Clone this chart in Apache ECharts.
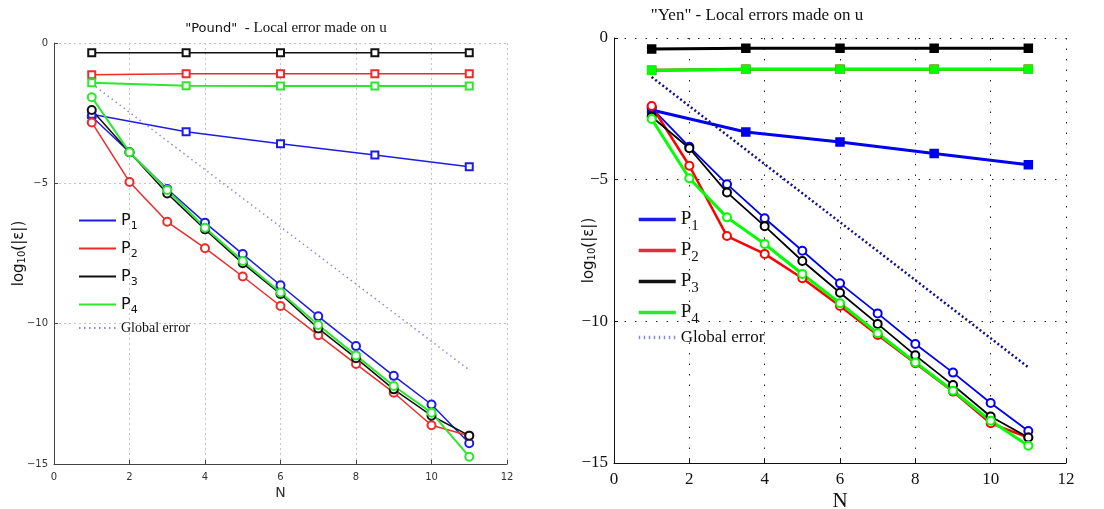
<!DOCTYPE html>
<html>
<head>
<meta charset="utf-8">
<script src="https://cdn.jsdelivr.net/npm/echarts@6/dist/echarts.min.js"></script>
<style>
  html, body { margin: 0; padding: 0; background: #fff; }
  #chart { width: 1104px; height: 509px; }
</style>
</head>
<body>
<div id="chart"></div>
<script>
// N values for the circle curves and the square curves
const nCircle = [1, 2, 3, 4, 5, 6, 7, 8, 9, 10, 11];
const nSquare = [1, 3.5, 6, 8.5, 11];
const nGlobal = [1, 11];

// "Pound" panel
const poundP1Circle = [-2.62, -3.89, -5.2, -6.4, -7.52, -8.63, -9.74, -10.8, -11.86, -12.88, -14.26];
const poundP2Circle = [-2.83, -4.95, -6.37, -7.31, -8.32, -9.37, -10.41, -11.44, -12.46, -13.62, -13.99];
const poundP3Circle = [-2.39, -3.89, -5.36, -6.64, -7.85, -8.94, -10.17, -11.23, -12.34, -13.28, -13.99];
const poundP4Circle = [-1.93, -3.89, -5.24, -6.58, -7.77, -8.89, -10.05, -11.13, -12.22, -13.17, -14.74];
const poundP1Square = [-2.54, -3.16, -3.59, -3.99, -4.41];
const poundP2Square = [-1.13, -1.1, -1.1, -1.1, -1.1];
const poundP3Square = [-0.35, -0.35, -0.35, -0.35, -0.35];
const poundP4Square = [-1.42, -1.52, -1.53, -1.53, -1.53];
const poundGlobal = [-1.45, -11.65];

// "Yen" panel
const yenP1Circle = [-2.47, -3.84, -5.16, -6.36, -7.51, -8.66, -9.72, -10.8, -11.81, -12.88, -13.87];
const yenP2Circle = [-2.4, -4.51, -6.99, -7.62, -8.48, -9.46, -10.48, -11.48, -12.48, -13.6, -14.1];
const yenP3Circle = [-2.78, -3.89, -5.45, -6.64, -7.87, -8.99, -10.09, -11.2, -12.25, -13.36, -14.1];
const yenP4Circle = [-2.86, -4.95, -6.33, -7.27, -8.33, -9.36, -10.42, -11.45, -12.45, -13.51, -14.39];
const yenP1Square = [-2.54, -3.32, -3.67, -4.08, -4.47];
const yenP2Square = [-1.14, -1.1, -1.1, -1.1, -1.1];
const yenP3Square = [-0.39, -0.36, -0.36, -0.36, -0.36];
const yenP4Square = [-1.14, -1.1, -1.1, -1.1, -1.1];
const yenGlobal = [-1.38, -11.62];

const xTicks = [0, 2, 4, 6, 8, 10, 12];
const yTicks = [0, -5, -10, -15];
const seriesNames = ['P1', 'P2', 'P3', 'P4', 'Global error'];

const pair = (xs, ys) => xs.map((x, i) => [x, ys[i]]);

function line(name, xs, ys, grid, opts) {
  return {
    name: name,
    type: 'line',
    xAxisIndex: grid,
    yAxisIndex: grid,
    data: pair(xs, ys),
    symbol: opts.symbol || 'none',
    symbolSize: opts.size || 7,
    showAllSymbol: true,
    animation: false,
    lineStyle: { color: opts.color, width: opts.width, type: opts.dash || 'solid' },
    itemStyle: { color: opts.color, borderColor: opts.color, borderWidth: opts.border || 1.5 },
    z: opts.z || 2,
  };
}

const L = { blue: '#1c1ce8', red: '#ee2a2a', black: '#111', green: '#2ee62e' };
const R = { blue: '#0000f0', red: '#ff0000', black: '#000', green: '#00ff00' };

const series = [
  // Pound
  line('P1', nCircle, poundP1Circle, 0, { color: L.blue, width: 1.5, symbol: 'emptyCircle', size: 8 }),
  line('P1', nSquare, poundP1Square, 0, { color: L.blue, width: 1.5, symbol: 'emptyRect', size: 7 }),
  line('P2', nCircle, poundP2Circle, 0, { color: L.red, width: 1.5, symbol: 'emptyCircle', size: 8 }),
  line('P2', nSquare, poundP2Square, 0, { color: L.red, width: 1.5, symbol: 'emptyRect', size: 7 }),
  line('P3', nCircle, poundP3Circle, 0, { color: L.black, width: 1.5, symbol: 'emptyCircle', size: 8 }),
  line('P3', nSquare, poundP3Square, 0, { color: L.black, width: 1.5, symbol: 'emptyRect', size: 7 }),
  line('P4', nCircle, poundP4Circle, 0, { color: L.green, width: 2, symbol: 'emptyCircle', size: 8 }),
  line('P4', nSquare, poundP4Square, 0, { color: L.green, width: 2, symbol: 'emptyRect', size: 7 }),
  line('Global error', nGlobal, poundGlobal, 0, { color: '#8a8ad8', width: 1.5, dash: [1.5, 3.5] }),
  // Yen
  line('P1', nCircle, yenP1Circle, 1, { color: R.blue, width: 1.8, symbol: 'emptyCircle', size: 8, border: 2 }),
  line('P1', nSquare, yenP1Square, 1, { color: R.blue, width: 3, symbol: 'rect', size: 8 }),
  line('P2', nCircle, yenP2Circle, 1, { color: R.red, width: 2.5, symbol: 'emptyCircle', size: 8, border: 2 }),
  line('P2', nSquare, yenP2Square, 1, { color: R.red, width: 3, symbol: 'rect', size: 8 }),
  line('P3', nCircle, yenP3Circle, 1, { color: R.black, width: 1.8, symbol: 'emptyCircle', size: 8, border: 2 }),
  line('P3', nSquare, yenP3Square, 1, { color: R.black, width: 3, symbol: 'rect', size: 8 }),
  line('P4', nCircle, yenP4Circle, 1, { color: R.green, width: 3, symbol: 'emptyCircle', size: 8, border: 2 }),
  line('P4', nSquare, yenP4Square, 1, { color: R.green, width: 3, symbol: 'rect', size: 8 }),
  line('Global error', nGlobal, yenGlobal, 1, { color: '#10108a', width: 2.5, dash: [2, 2.5] }),
];

function xAxis(grid, font, size, color, axisColor, splitColor, splitDash, gap) {
  return {
    type: 'value', gridIndex: grid, min: xTicks[0], max: xTicks[xTicks.length - 1], interval: 2,
    name: 'N', nameLocation: 'middle', nameGap: gap, nameMoveOverlap: false,
    nameTextStyle: { fontFamily: font, fontSize: size + 4, color: color },
    axisLine: { onZero: false, lineStyle: { color: axisColor, width: 1 } },
    axisTick: { inside: true, length: 4, lineStyle: { color: axisColor } },
    axisLabel: { fontFamily: font, fontSize: size, color: color, margin: 8 },
    splitLine: { show: true, lineStyle: { color: splitColor, type: splitDash, width: 1 } },
  };
}

function yAxis(grid, font, size, color, axisColor, splitColor, splitDash, gap) {
  return {
    type: 'value', gridIndex: grid, min: yTicks[yTicks.length - 1], max: yTicks[0], interval: 5,
    name: 'log{s|10}(|ε|)', nameLocation: 'middle', nameGap: gap, nameRotate: 90,
    nameMoveOverlap: false,
    nameTextStyle: {
      fontFamily: 'DejaVu Sans', fontSize: 15, color: '#111',
      rich: {
        s: { fontFamily: 'DejaVu Sans', fontSize: 10, color: '#111', padding: [6, 0, 0, 0] },
      },
    },
    axisLine: { show: true, onZero: false, lineStyle: { color: axisColor, width: 1 } },
    axisTick: { show: true, inside: true, length: 4, lineStyle: { color: axisColor } },
    axisLabel: {
      fontFamily: font, fontSize: size, color: color, margin: 6,
      formatter: (v) => (v < 0 ? '\u2212' + Math.abs(v) : String(v)),
    },
    splitLine: { show: true, lineStyle: { color: splitColor, type: splitDash, width: 1 } },
  };
}

function legendFmt(name) {
  if (name === 'Global error') return '{g|Global error}';
  return '{p|P}{s|' + name.slice(1) + '}';
}

const chart = echarts.init(document.getElementById('chart'));
chart.setOption({
  backgroundColor: '#fff',
  animation: false,
  title: [
    {
      text: '{a|"Pound"}{b|  - Local error made on u}',
      left: 281, top: 16, textAlign: 'center',
      textStyle: {
        fontWeight: 'normal',
        rich: {
          a: { fontFamily: 'DejaVu Sans', fontSize: 13, fontWeight: 'normal', color: '#111' },
          b: { fontFamily: 'Liberation Serif', fontSize: 15, fontWeight: 'normal', color: '#111' },
        },
      },
    },
    {
      text: '"Yen" - Local errors made on u',
      left: 752, top: 2, textAlign: 'center',
      textStyle: { fontFamily: 'Liberation Serif', fontSize: 17, fontWeight: 'normal', color: '#111' },
    },
  ],
  grid: [
    { left: 54, top: 43, width: 453, height: 421, containLabel: false, outerBoundsMode: 'none' },
    { left: 614, top: 38, width: 452, height: 425, containLabel: false, outerBoundsMode: 'none' },
  ],
  xAxis: [
    xAxis(0, 'DejaVu Sans', 10, '#333', '#444', '#c4c4c4', [2, 3], 22),
    xAxis(1, 'Liberation Serif', 17, '#111', '#111', '#222', [1.5, 9], 28),
  ],
  yAxis: [
    yAxis(0, 'DejaVu Sans', 10, '#333', '#444', '#c4c4c4', [2, 3], 27),
    yAxis(1, 'Liberation Serif', 17, '#111', '#111', '#222', [1.5, 9], 17),
  ],
  legend: [
    {
      data: seriesNames, orient: 'vertical', left: 73, top: 204,
      itemWidth: 37, itemHeight: 10, itemGap: 5,
      itemStyle: { opacity: 0 },
      formatter: legendFmt,
      textStyle: {
        rich: {
          p: { fontFamily: 'DejaVu Sans', fontSize: 16, color: '#111', lineHeight: 20 },
          s: { fontFamily: 'DejaVu Sans', fontSize: 11, color: '#111', lineHeight: 20, padding: [12, 0, 0, 0] },
          g: { fontFamily: 'Liberation Serif', fontSize: 14, color: '#111', lineHeight: 20 },
        },
      },
      selectedMode: false,
    },
    {
      data: seriesNames, orient: 'vertical', left: 632, top: 200,
      itemWidth: 37, itemHeight: 10, itemGap: 2,
      itemStyle: { opacity: 0 },
      lineStyle: { width: 3.5 },
      formatter: legendFmt,
      textStyle: {
        rich: {
          p: { fontFamily: 'Liberation Serif', fontSize: 19, color: '#111', lineHeight: 20 },
          s: { fontFamily: 'Liberation Serif', fontSize: 15, color: '#111', lineHeight: 20, padding: [14, 0, 0, 0] },
          g: { fontFamily: 'Liberation Serif', fontSize: 17, color: '#111', lineHeight: 20 },
        },
      },
      selectedMode: false,
    },
  ],
  series: series,
});
</script>
</body>
</html>
